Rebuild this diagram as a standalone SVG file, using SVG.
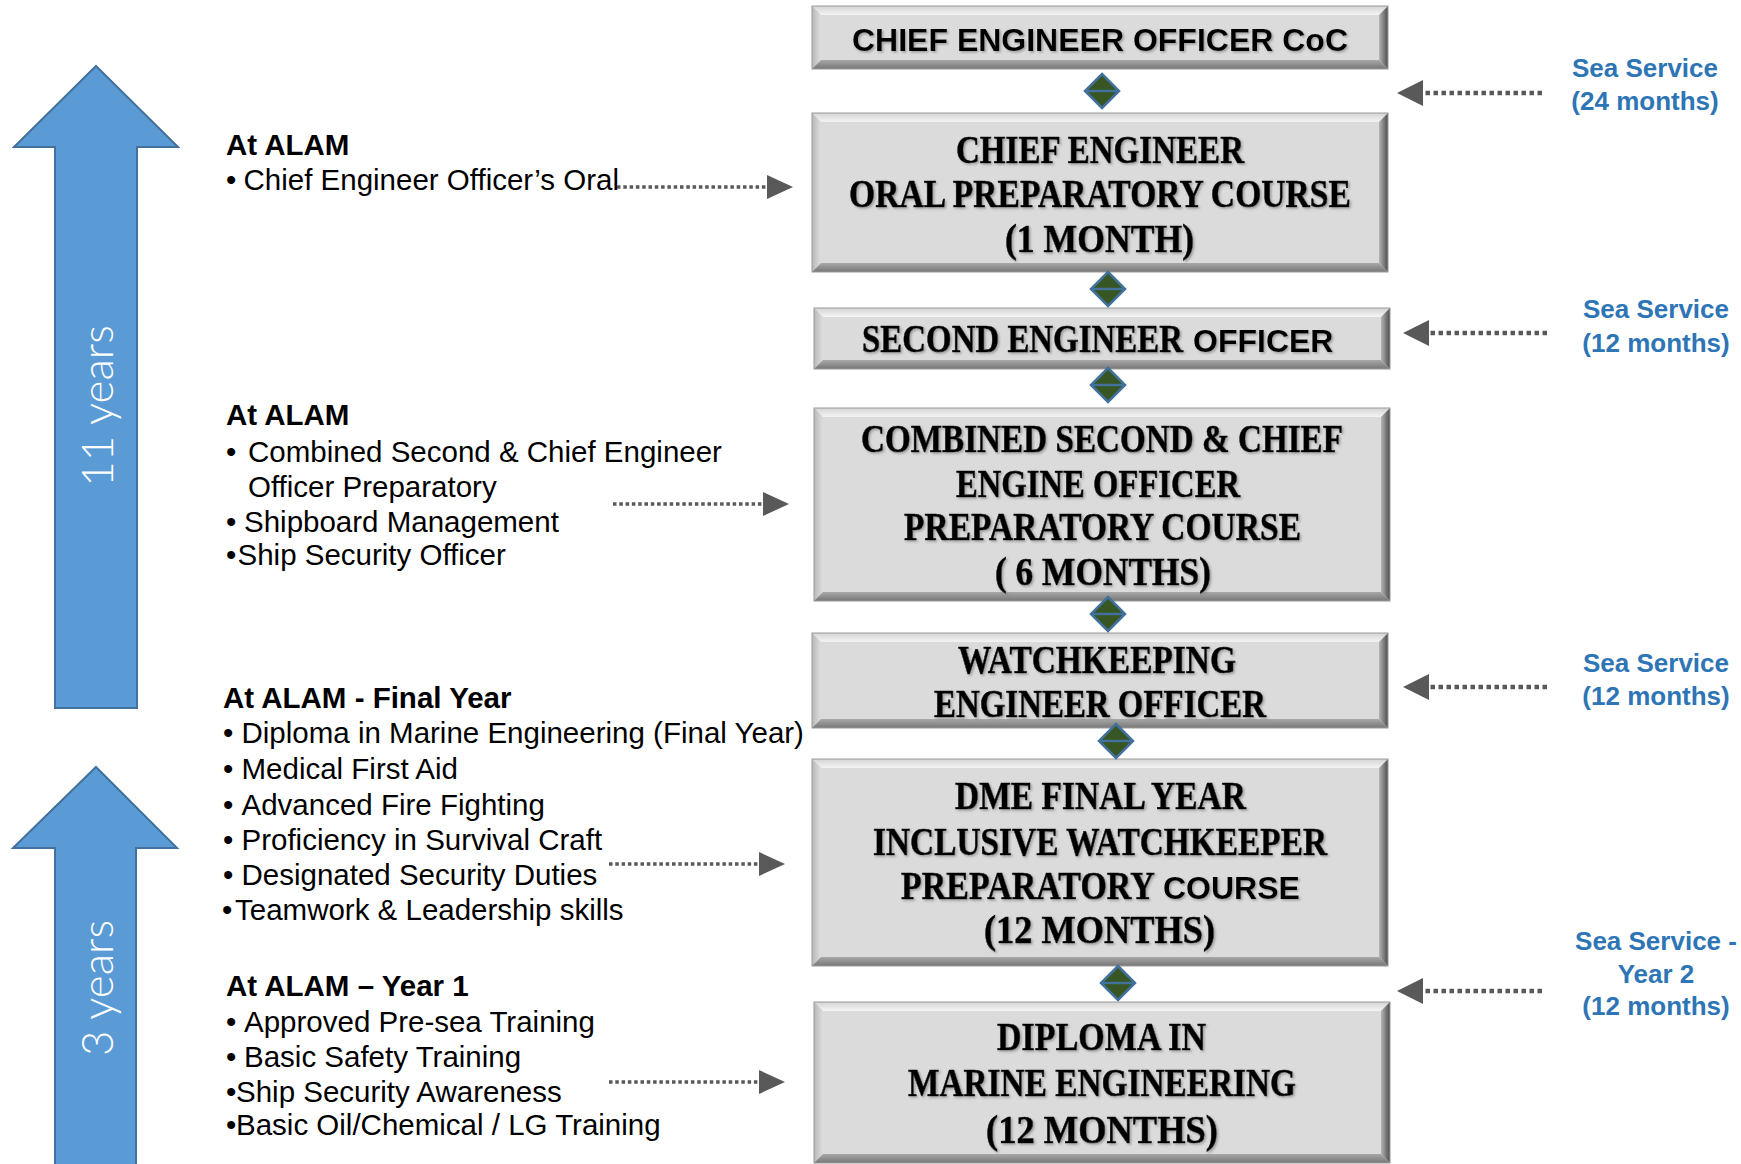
<svg xmlns="http://www.w3.org/2000/svg" width="1741" height="1164" viewBox="0 0 1741 1164">
<defs>
  <linearGradient id="gTop" x1="0" y1="0" x2="0" y2="1"><stop offset="0" stop-color="#d4d4d4"/><stop offset="1" stop-color="#f4f4f4"/></linearGradient>
  <linearGradient id="gLeft" x1="0" y1="0" x2="1" y2="0"><stop offset="0" stop-color="#b8b8b8"/><stop offset="1" stop-color="#dedede"/></linearGradient>
  <linearGradient id="gRight" x1="0" y1="0" x2="1" y2="0"><stop offset="0" stop-color="#b5b5b5"/><stop offset="1" stop-color="#4d4d4d"/></linearGradient>
  <linearGradient id="gBottom" x1="0" y1="0" x2="0" y2="1"><stop offset="0" stop-color="#a8a8a8"/><stop offset="1" stop-color="#777777"/></linearGradient>
  <filter id="tsh" x="-5%" y="-20%" width="110%" height="140%">
    <feDropShadow dx="1.5" dy="1.5" stdDeviation="0.8" flood-color="#808080" flood-opacity="0.7"/>
  </filter>
  <style>
    .face{fill:#dcdbdc;}
    .edge{fill:none;stroke:#9a9a9a;stroke-width:1;}
    .serif{font-family:"Liberation Serif","Times New Roman",serif;font-weight:bold;font-size:40px;fill:#000;stroke:#000;stroke-width:0.6;}
    .sansb{font-family:"Liberation Sans",Arial,sans-serif;font-weight:bold;font-size:32px;fill:#000;stroke:none;}
    .ttl{filter:url(#tsh);}
    .lt{font-family:"Liberation Sans",Arial,sans-serif;font-size:29.5px;fill:#000;}
    .lh{font-family:"Liberation Sans",Arial,sans-serif;font-size:29.5px;font-weight:bold;fill:#000;}
    .sea{font-family:"Liberation Sans",Arial,sans-serif;font-size:26px;font-weight:bold;fill:#2e75b6;text-anchor:middle;}
    .yrs{font-family:Lato,"Open Sans",sans-serif;font-weight:300;font-size:44px;fill:#fff;text-anchor:middle;}
    .bigarrow{fill:#5b9bd5;stroke:#41719c;stroke-width:2;}
    .dotR{stroke:#595959;stroke-width:4.5;stroke-dasharray:4.5 3.5;fill:none;}
    .dotL{stroke:#595959;stroke-width:3.5;stroke-dasharray:3.5 2.8;fill:none;}
    .head{fill:#595959;}
    .dia{fill:#375623;stroke:#41719c;stroke-width:2.5;stroke-linejoin:miter;}
  </style>
</defs>
<rect width="1741" height="1164" fill="#fff"/>

<!-- Big blue arrows -->
<g id="arrow-11years">
  <polygon class="bigarrow" points="96,66 178,147 137,147 137,708 55,708 55,147 14,147"/>
  <text class="yrs" transform="rotate(-90 113 406)" x="113" y="406">11 years</text>
</g>
<g id="arrow-3years">
  <polygon class="bigarrow" points="96,767 177,848 136,848 136,1168 55,1168 55,848 13,848"/>
  <text class="yrs" transform="rotate(-90 113 988)" x="113" y="988">3 years</text>
</g>

<!-- Boxes -->
<g id="box-ceo-coc">
  <rect class="face" x="812" y="6" width="576" height="63"/>
  <polygon fill="url(#gTop)" points="812,6 1388,6 1379,15 821,15"/>
  <polygon fill="url(#gLeft)" points="812,6 821,15 821,60 812,69"/>
  <polygon fill="url(#gRight)" points="1388,6 1388,69 1379,60 1379,15"/>
  <polygon fill="url(#gBottom)" points="812,69 821,60 1379,60 1388,69"/>
  <rect class="edge" x="812" y="6" width="576" height="63"/>
  <text class="sansb ttl" x="1100" y="51" text-anchor="middle">CHIEF ENGINEER OFFICER CoC</text>
</g>
<g id="box-ce-oral">
  <rect class="face" x="812" y="113" width="576" height="159"/>
  <polygon fill="url(#gTop)" points="812,113 1388,113 1379,122 821,122"/>
  <polygon fill="url(#gLeft)" points="812,113 821,122 821,263 812,272"/>
  <polygon fill="url(#gRight)" points="1388,113 1388,272 1379,263 1379,122"/>
  <polygon fill="url(#gBottom)" points="812,272 821,263 1379,263 1388,272"/>
  <rect class="edge" x="812" y="113" width="576" height="159"/>
  <g class="ttl">
    <text class="serif" x="956" y="163" textLength="288" lengthAdjust="spacingAndGlyphs">CHIEF ENGINEER</text>
    <text class="serif" x="849" y="207" textLength="502" lengthAdjust="spacingAndGlyphs">ORAL PREPARATORY COURSE</text>
    <text class="serif" x="1005" y="252" textLength="189" lengthAdjust="spacingAndGlyphs">(1 MONTH)</text>
  </g>
</g>
<g id="box-second-eng">
  <rect class="face" x="814" y="308" width="576" height="61"/>
  <polygon fill="url(#gTop)" points="814,308 1390,308 1381,317 823,317"/>
  <polygon fill="url(#gLeft)" points="814,308 823,317 823,360 814,369"/>
  <polygon fill="url(#gRight)" points="1390,308 1390,369 1381,360 1381,317"/>
  <polygon fill="url(#gBottom)" points="814,369 823,360 1381,360 1390,369"/>
  <rect class="edge" x="814" y="308" width="576" height="61"/>
  <g class="ttl">
    <text class="serif" transform="translate(862 352) scale(0.823 1)" x="0" y="0">SECOND ENGINEER</text>
    <text class="sansb" x="1193" y="352">OFFICER</text>
  </g>
</g>
<g id="box-combined">
  <rect class="face" x="814" y="408" width="576" height="193"/>
  <polygon fill="url(#gTop)" points="814,408 1390,408 1381,417 823,417"/>
  <polygon fill="url(#gLeft)" points="814,408 823,417 823,592 814,601"/>
  <polygon fill="url(#gRight)" points="1390,408 1390,601 1381,592 1381,417"/>
  <polygon fill="url(#gBottom)" points="814,601 823,592 1381,592 1390,601"/>
  <rect class="edge" x="814" y="408" width="576" height="193"/>
  <g class="ttl">
    <text class="serif" x="861" y="452" textLength="482" lengthAdjust="spacingAndGlyphs">COMBINED SECOND &amp; CHIEF</text>
    <text class="serif" x="956" y="497" textLength="284" lengthAdjust="spacingAndGlyphs">ENGINE OFFICER</text>
    <text class="serif" x="904" y="540" textLength="397" lengthAdjust="spacingAndGlyphs">PREPARATORY COURSE</text>
    <text class="serif" x="995" y="585" textLength="216" lengthAdjust="spacingAndGlyphs">( 6 MONTHS)</text>
  </g>
</g>
<g id="box-watchkeeping">
  <rect class="face" x="812" y="633" width="576" height="95"/>
  <polygon fill="url(#gTop)" points="812,633 1388,633 1379,642 821,642"/>
  <polygon fill="url(#gLeft)" points="812,633 821,642 821,719 812,728"/>
  <polygon fill="url(#gRight)" points="1388,633 1388,728 1379,719 1379,642"/>
  <polygon fill="url(#gBottom)" points="812,728 821,719 1379,719 1388,728"/>
  <rect class="edge" x="812" y="633" width="576" height="95"/>
  <g class="ttl">
    <text class="serif" x="958" y="673" textLength="278" lengthAdjust="spacingAndGlyphs">WATCHKEEPING</text>
    <text class="serif" x="934" y="717" textLength="332" lengthAdjust="spacingAndGlyphs">ENGINEER OFFICER</text>
  </g>
</g>
<g id="box-dme-final">
  <rect class="face" x="812" y="759" width="576" height="207"/>
  <polygon fill="url(#gTop)" points="812,759 1388,759 1379,768 821,768"/>
  <polygon fill="url(#gLeft)" points="812,759 821,768 821,957 812,966"/>
  <polygon fill="url(#gRight)" points="1388,759 1388,966 1379,957 1379,768"/>
  <polygon fill="url(#gBottom)" points="812,966 821,957 1379,957 1388,966"/>
  <rect class="edge" x="812" y="759" width="576" height="207"/>
  <g class="ttl">
    <text class="serif" x="955" y="809" textLength="291" lengthAdjust="spacingAndGlyphs">DME FINAL YEAR</text>
    <text class="serif" x="873" y="855" textLength="454" lengthAdjust="spacingAndGlyphs">INCLUSIVE WATCHKEEPER</text>
    <text class="serif" transform="translate(901 899) scale(0.85 1)" x="0" y="0">PREPARATORY</text>
    <text class="sansb" x="1163" y="899">COURSE</text>
    <text class="serif" x="984" y="943" textLength="231" lengthAdjust="spacingAndGlyphs">(12 MONTHS)</text>
  </g>
</g>
<g id="box-diploma">
  <rect class="face" x="814" y="1002" width="576" height="161"/>
  <polygon fill="url(#gTop)" points="814,1002 1390,1002 1381,1011 823,1011"/>
  <polygon fill="url(#gLeft)" points="814,1002 823,1011 823,1154 814,1163"/>
  <polygon fill="url(#gRight)" points="1390,1002 1390,1163 1381,1154 1381,1011"/>
  <polygon fill="url(#gBottom)" points="814,1163 823,1154 1381,1154 1390,1163"/>
  <rect class="edge" x="814" y="1002" width="576" height="161"/>
  <g class="ttl">
    <text class="serif" x="997" y="1050" textLength="209" lengthAdjust="spacingAndGlyphs">DIPLOMA IN</text>
    <text class="serif" x="908" y="1096" textLength="388" lengthAdjust="spacingAndGlyphs">MARINE ENGINEERING</text>
    <text class="serif" x="986" y="1143" textLength="232" lengthAdjust="spacingAndGlyphs">(12 MONTHS)</text>
  </g>
</g>

<!-- Left text blocks -->
<g id="text-ce-oral">
  <text class="lh" x="226" y="155">At ALAM</text>
  <text class="lt" y="190"><tspan x="226">•</tspan><tspan x="243.5">Chief Engineer Officer’s Oral</tspan></text>
</g>
<g id="text-combined">
  <text class="lh" x="226" y="425">At ALAM</text>
  <text class="lt" y="462"><tspan x="226">•</tspan><tspan x="248">Combined Second &amp; Chief Engineer</tspan></text>
  <text class="lt" x="248" y="497">Officer Preparatory</text>
  <text class="lt" y="532"><tspan x="226">•</tspan><tspan x="244">Shipboard Management</tspan></text>
  <text class="lt" y="565"><tspan x="226">•</tspan><tspan x="237.5">Ship Security Officer</tspan></text>
</g>
<g id="text-final-year">
  <text class="lh" x="223" y="708">At ALAM - Final Year</text>
  <text class="lt" y="743"><tspan x="223">•</tspan><tspan x="241.5">Diploma in Marine Engineering (Final Year)</tspan></text>
  <text class="lt" y="779"><tspan x="223">•</tspan><tspan x="241.5">Medical First Aid</tspan></text>
  <text class="lt" y="815"><tspan x="223">•</tspan><tspan x="241.5">Advanced Fire Fighting</tspan></text>
  <text class="lt" y="850"><tspan x="223">•</tspan><tspan x="241.5">Proficiency in Survival Craft</tspan></text>
  <text class="lt" y="885"><tspan x="223">•</tspan><tspan x="241.5">Designated Security Duties</tspan></text>
  <text class="lt" y="920"><tspan x="222">•</tspan><tspan x="235">Teamwork &amp; Leadership skills</tspan></text>
</g>
<g id="text-year1">
  <text class="lh" x="226" y="996">At ALAM – Year 1</text>
  <text class="lt" y="1032"><tspan x="226">•</tspan><tspan x="244">Approved Pre-sea Training</tspan></text>
  <text class="lt" y="1067"><tspan x="226">•</tspan><tspan x="244">Basic Safety Training</tspan></text>
  <text class="lt" y="1102"><tspan x="226">•</tspan><tspan x="236">Ship Security Awareness</tspan></text>
  <text class="lt" y="1135"><tspan x="226">•</tspan><tspan x="236">Basic Oil/Chemical / LG Training</tspan></text>
</g>

<!-- Sea service labels -->
<g id="sea-24">
  <text class="sea" x="1645" y="77">Sea Service</text>
  <text class="sea" x="1645" y="110">(24 months)</text>
</g>
<g id="sea-12a">
  <text class="sea" x="1656" y="318">Sea Service</text>
  <text class="sea" x="1656" y="352">(12 months)</text>
</g>
<g id="sea-12b">
  <text class="sea" x="1656" y="672">Sea Service</text>
  <text class="sea" x="1656" y="705">(12 months)</text>
</g>
<g id="sea-year2">
  <text class="sea" x="1656" y="950">Sea Service -</text>
  <text class="sea" x="1656" y="983">Year 2</text>
  <text class="sea" x="1656" y="1015">(12 months)</text>
</g>

<!-- Connectors -->
<g id="connectors">
  <g>
    <polygon class="dia" points="1102,74 1119,91 1102,108 1085,91"/><line x1="1085" y1="91" x2="1119" y2="91" stroke="#41719c" stroke-width="2.5"/>
    <polygon class="dia" points="1108,272 1125,289 1108,306 1091,289"/><line x1="1091" y1="289" x2="1125" y2="289" stroke="#41719c" stroke-width="2.5"/>
    <polygon class="dia" points="1108,368 1125,385 1108,402 1091,385"/><line x1="1091" y1="385" x2="1125" y2="385" stroke="#41719c" stroke-width="2.5"/>
    <polygon class="dia" points="1108,597 1125,614 1108,631 1091,614"/><line x1="1091" y1="614" x2="1125" y2="614" stroke="#41719c" stroke-width="2.5"/>
    <polygon class="dia" points="1116,724 1133,741 1116,758 1099,741"/><line x1="1099" y1="741" x2="1133" y2="741" stroke="#41719c" stroke-width="2.5"/>
    <polygon class="dia" points="1118,966 1135,983 1118,1000 1101,983"/><line x1="1101" y1="983" x2="1135" y2="983" stroke="#41719c" stroke-width="2.5"/>
  </g>
  <line class="dotL" x1="617" y1="187" x2="768" y2="187"/><polygon class="head" points="767,175 793,187 767,199"/>
  <line class="dotL" x1="613" y1="504" x2="764" y2="504"/><polygon class="head" points="763,492 789,504 763,516"/>
  <line class="dotL" x1="609" y1="864" x2="760" y2="864"/><polygon class="head" points="759,852 785,864 759,876"/>
  <line class="dotL" x1="609" y1="1082" x2="760" y2="1082"/><polygon class="head" points="759,1070 785,1082 759,1094"/>
  <line class="dotR" x1="1542" y1="93" x2="1422" y2="93"/><polygon class="head" points="1423,80 1397,93 1423,106"/>
  <line class="dotR" x1="1547" y1="333" x2="1428" y2="333"/><polygon class="head" points="1429,320 1403,333 1429,346"/>
  <line class="dotR" x1="1547" y1="687" x2="1428" y2="687"/><polygon class="head" points="1429,674 1403,687 1429,700"/>
  <line class="dotR" x1="1542" y1="991" x2="1422" y2="991"/><polygon class="head" points="1423,978 1397,991 1423,1004"/>
</g>
</svg>
